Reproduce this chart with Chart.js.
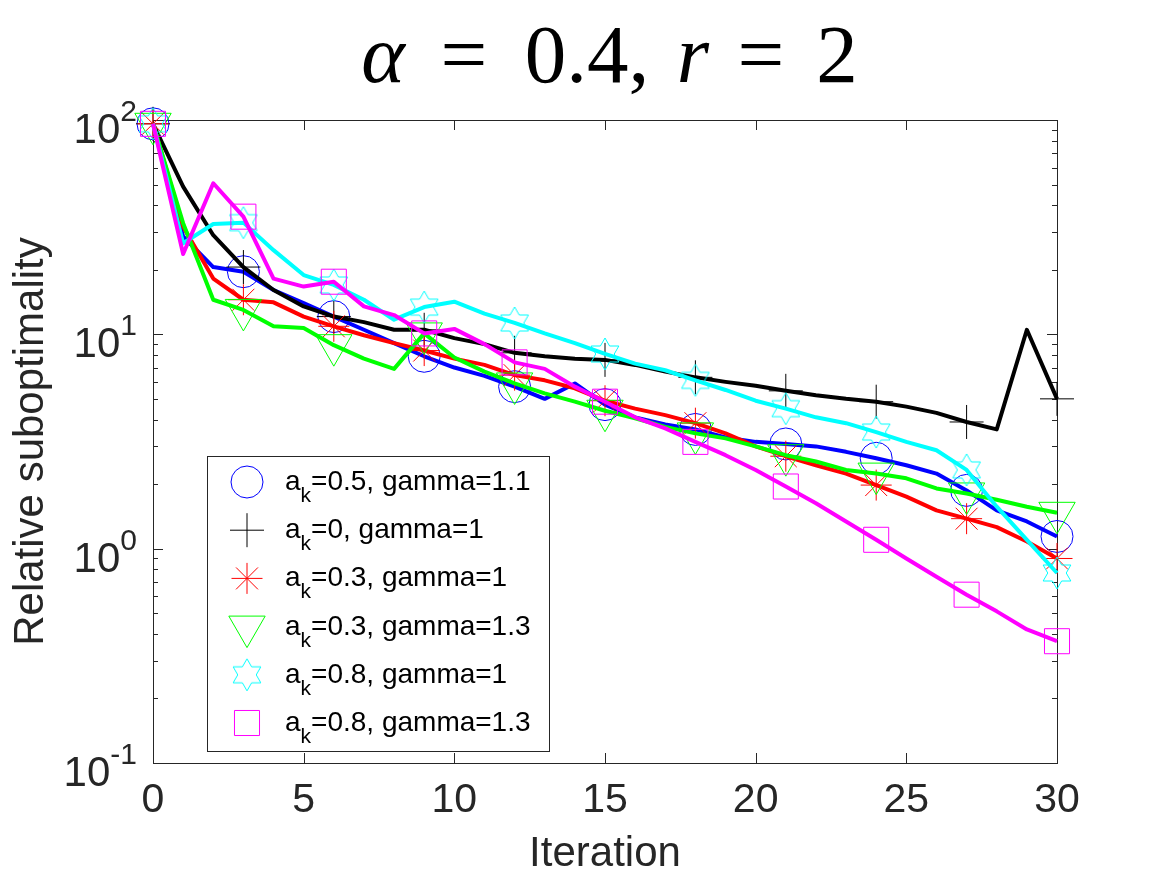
<!DOCTYPE html>
<html>
<head>
<meta charset="utf-8">
<script src="https://cdn.jsdelivr.net/npm/chart.js@4.4.0/dist/chart.umd.min.js"></script>
<style>
  html, body { margin: 0; padding: 0; background: #fff; }
</style>
</head>
<body>
<canvas id="subChart" width="1167" height="875"></canvas>
<script>
// iterations on the x axis
const iterations = [0, 1, 2, 3, 4, 5, 6, 7, 8, 9, 10, 11, 12, 13, 14, 15,
  16, 17, 18, 19, 20, 21, 22, 23, 24, 25, 26, 27, 28, 29, 30];

// relative suboptimality per run
const ak05g11 = [96, 28.6, 20.6, 19.6, 16.1, 14.0, 12.1, 10.5, 9.1, 7.9, 7.0,
  6.4, 5.7, 5.0, 5.9, 4.7, 4.1, 3.8, 3.6, 3.3, 3.15, 3.08, 3.0, 2.83, 2.64,
  2.45, 2.24, 1.87, 1.51, 1.34, 1.14];
const ak0g1 = [96, 48.9, 29, 20.6, 16.1, 13.5, 12.1, 11.4, 10.5, 10.5, 9.6,
  9.0, 8.2, 7.9, 7.7, 7.6, 7.2, 6.7, 6.3, 6.0, 5.75, 5.45, 5.2, 5.0, 4.85,
  4.6, 4.3, 3.9, 3.6, 10.5, 5.0];
const ak03g1 = [96, 31.8, 18.2, 14.5, 14.1, 12.1, 10.9, 9.9, 9.1, 8.4, 7.7,
  7.2, 6.45, 6.1, 5.6, 4.9, 4.5, 4.2, 3.85, 3.45, 3.0, 2.7, 2.45, 2.24, 1.98,
  1.75, 1.51, 1.38, 1.26, 1.08, 0.90];
const ak03g13 = [96, 33, 14.5, 13.0, 10.9, 10.7, 8.9, 7.7, 6.9, 10.1, 7.8,
  6.7, 5.9, 5.3, 4.85, 4.4, 4.06, 3.7, 3.45, 3.27, 3.0, 2.73, 2.55, 2.33, 2.24,
  2.13, 1.91, 1.81, 1.69, 1.57, 1.47];
const ak08g1 = [96, 26.6, 32.7, 33.2, 24.7, 18.9, 17.0, 14.5, 11.7, 13.4, 14.2,
  12.5, 11.3, 10.1, 9.1, 8.1, 7.3, 6.8, 6.1, 5.5, 4.9, 4.5, 4.1, 3.85, 3.5,
  3.15, 2.88, 2.33, 1.57, 1.10, 0.77];
const ak08g13 = [96, 23.7, 50.7, 35.4, 18.2, 16.7, 17.6, 13.5, 12.3, 10.1, 10.6,
  9.0, 7.4, 6.9, 5.7, 4.85, 4.1, 3.64, 3.15, 2.73, 2.33, 1.95, 1.63, 1.34, 1.10,
  0.90, 0.74, 0.61, 0.51, 0.42, 0.37];

const seriesLabels = ['a_k=0.5, gamma=1.1', 'a_k=0, gamma=1', 'a_k=0.3, gamma=1',
  'a_k=0.3, gamma=1.3', 'a_k=0.8, gamma=1', 'a_k=0.8, gamma=1.3'];
const seriesValues = [ak05g11, ak0g1, ak03g1, ak03g13, ak08g1, ak08g13];

const xTickValues = [0, 5, 10, 15, 20, 25, 30];
const yTickValues = [0.1, 1, 10, 100];
const yTickExponents = ['-1', '0', '1', '2'];

// styling
const colors = ['#0000ff', '#000000', '#ff0000', '#00ff00', '#00ffff', '#ff00ff'];
const markerEvery = 3;
const axisColor = '#262626';
const sans = '"Liberation Sans", Arial, Helvetica, sans-serif';

function hexagram(color, R) {
  const c = document.createElement('canvas');
  const s = Math.ceil(R * 2 + 4);
  c.width = s; c.height = s;
  const g = c.getContext('2d');
  g.strokeStyle = color;
  g.lineWidth = 1;
  g.beginPath();
  const r = R / Math.sqrt(3);
  for (let k = 0; k < 12; k++) {
    const ang = -Math.PI / 2 + k * Math.PI / 6;
    const rr = k % 2 === 0 ? R : r;
    const px = s / 2 + rr * Math.cos(ang), py = s / 2 + rr * Math.sin(ang);
    if (k === 0) g.moveTo(px, py); else g.lineTo(px, py);
  }
  g.closePath();
  g.stroke();
  return c;
}

const markerStyles = ['circle', 'cross', 'star', 'triangle', hexagram('#00ffff', 16), 'rect'];
const markerRotation = [0, 0, 0, 180, 0, 0];
const markerRadius = [16, 17, 15.5, 21, 16, 17.7];

// MATLAB-like box with inward ticks and 10^n labels
const axesBox = {
  id: 'axesBox',
  beforeDatasetsDraw(chart) {
    const { ctx, chartArea: a, scales: { x, y } } = chart;
    ctx.save();
    ctx.strokeStyle = axisColor;
    ctx.lineWidth = 1;
    ctx.strokeRect(Math.round(a.left) + 0.5, Math.round(a.top) + 0.5,
      Math.round(a.right - a.left), Math.round(a.bottom - a.top));
    ctx.beginPath();
    xTickValues.forEach(v => {
      const px = Math.round(x.getPixelForValue(v)) + 0.5;
      ctx.moveTo(px, a.bottom); ctx.lineTo(px, a.bottom - 10);
      ctx.moveTo(px, a.top); ctx.lineTo(px, a.top + 10);
    });
    yTickValues.forEach(d => {
      for (let m = 1; m <= 9; m++) {
        const v = d * m;
        if (v > 100.001) break;
        const len = m === 1 ? 10 : 5;
        const py = Math.round(y.getPixelForValue(v)) + 0.5;
        ctx.moveTo(a.left, py); ctx.lineTo(a.left + len, py);
        ctx.moveTo(a.right, py); ctx.lineTo(a.right - len, py);
      }
    });
    ctx.stroke();

    ctx.fillStyle = axisColor;
    ctx.textAlign = 'right';
    ctx.textBaseline = 'alphabetic';
    yTickValues.forEach((v, i) => {
      const py = y.getPixelForValue(v);
      ctx.font = '30px ' + sans;
      ctx.fillText(yTickExponents[i], 137, py + 1);
      const w = ctx.measureText(yTickExponents[i]).width;
      ctx.font = '42px ' + sans;
      ctx.fillText('10', 137 - w, py + 23);
    });
    ctx.restore();
  }
};

// legend box drawn inside the axes, lower left
const legendBox = {
  id: 'legendBox',
  afterDatasetsDraw(chart) {
    const ctx = chart.ctx;
    ctx.save();
    ctx.fillStyle = '#ffffff';
    ctx.fillRect(207, 456, 342, 295);
    ctx.strokeStyle = axisColor;
    ctx.lineWidth = 1;
    ctx.strokeRect(207.5, 456.5, 342, 295);
    seriesLabels.forEach((lab, i) => {
      const cy = 482 + i * 48.2;
      ctx.strokeStyle = colors[i];
      ctx.fillStyle = 'rgba(0,0,0,0)';
      ctx.lineWidth = 1;
      Chart.helpers.drawPoint(ctx, {
        pointStyle: markerStyles[i], radius: markerRadius[i],
        rotation: markerRotation[i], borderWidth: 1
      }, 247, cy);
      const parts = lab.split('_k');
      ctx.fillStyle = '#000';
      ctx.textAlign = 'left';
      ctx.textBaseline = 'alphabetic';
      ctx.font = '28px ' + sans;
      let tx = 285;
      ctx.fillText(parts[0], tx, cy + 8);
      tx += ctx.measureText(parts[0]).width;
      ctx.font = '21px ' + sans;
      ctx.fillText('k', tx, cy + 20);
      tx += ctx.measureText('k').width;
      ctx.font = '28px ' + sans;
      ctx.fillText(parts[1], tx, cy + 8);
    });
    ctx.restore();
  }
};

// LaTeX-like title: alpha = 0.4, r = 2
const mathTitle = {
  id: 'mathTitle',
  afterDraw(chart) {
    const ctx = chart.ctx;
    const pieces = [['α', true, 383], ['=', false, 464], ['0.4,', false, 587],
      ['r', true, 693], ['=', false, 761], ['2', false, 837]];
    ctx.save();
    ctx.fillStyle = '#000';
    ctx.textAlign = 'center';
    ctx.textBaseline = 'alphabetic';
    pieces.forEach(([t, it, cx]) => {
      ctx.font = (it ? 'italic ' : '') + '83px "Liberation Serif", "Times New Roman", serif';
      ctx.fillText(t, cx, 82);
    });
    ctx.restore();
  }
};

const datasets = seriesValues.map((vals, i) => ({
  label: seriesLabels[i],
  data: vals,
  borderColor: colors[i],
  backgroundColor: 'rgba(0,0,0,0)',
  borderWidth: 4,
  borderJoinStyle: 'round',
  tension: 0,
  pointStyle: markerStyles[i],
  pointRotation: markerRotation[i],
  pointRadius: ctx => ctx.dataIndex % markerEvery === 0 ? markerRadius[i] : 0,
  pointHoverRadius: 0,
  pointBorderWidth: 1,
  pointBorderColor: colors[i],
  pointBackgroundColor: 'rgba(0,0,0,0)',
  clip: false,
  order: seriesValues.length - i
}));

new Chart(document.getElementById('subChart').getContext('2d'), {
  type: 'line',
  data: { labels: iterations, datasets: datasets },
  options: {
    responsive: false,
    animation: false,
    events: [],
    layout: { padding: { top: 120, right: 110, left: 0, bottom: 0 } },
    plugins: {
      legend: { display: false },
      tooltip: { enabled: false },
      title: { display: false }
    },
    scales: {
      x: {
        type: 'linear',
        min: 0,
        max: 30,
        grid: { display: false, drawTicks: false },
        border: { display: false },
        ticks: {
          stepSize: 5,
          color: axisColor,
          padding: 13,
          maxRotation: 0,
          font: { family: sans, size: 41 }
        },
        title: {
          display: true,
          text: 'Iteration',
          color: axisColor,
          padding: 0,
          font: { family: sans, size: 42, lineHeight: 1 }
        },
        afterFit(s) { s.height = 112; }
      },
      y: {
        type: 'logarithmic',
        min: 0.1,
        max: 100,
        grid: { display: false, drawTicks: false },
        border: { display: false },
        ticks: { display: false },
        title: {
          display: true,
          text: 'Relative suboptimality',
          color: axisColor,
          padding: { top: 6, bottom: 0 },
          font: { family: sans, size: 42 }
        },
        afterFit(s) { s.width = 153; }
      }
    }
  },
  plugins: [axesBox, legendBox, mathTitle]
});
</script>
</body>
</html>
